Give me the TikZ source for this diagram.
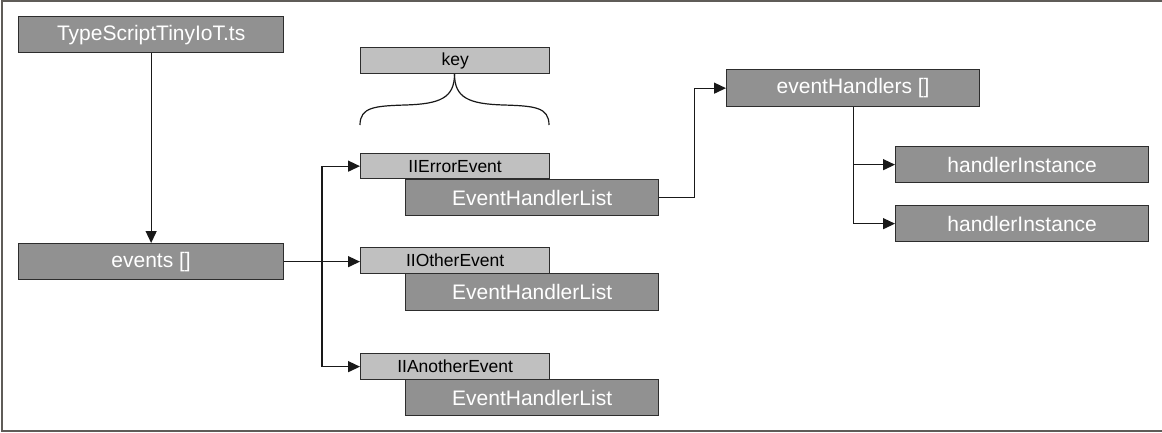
\documentclass[tikz,border=0pt]{standalone}
\usepackage{fontspec}
\setmainfont{Liberation Sans}
\usetikzlibrary{arrows.meta,calc}
\definecolor{darkfill}{RGB}{145,145,145}
\definecolor{lightfill}{RGB}{192,192,192}
\definecolor{edgecol}{RGB}{45,45,45}
\definecolor{framecol}{RGB}{95,92,88}
\tikzset{
  dbox/.style={draw=edgecol, line width=1.3pt, fill=darkfill, text=white, inner sep=0pt,
    anchor=north west, font=\fontsize{21}{24}\selectfont},
  lbox/.style={draw=edgecol, line width=1.3pt, fill=lightfill, text=black, inner sep=0pt,
    anchor=north west, font=\fontsize{17.5}{20}\selectfont},
  conn/.style={draw=black!90, line width=1.3pt},
  arr/.style={conn, -{Triangle[length=12pt,width=11pt]}},
}
\begin{document}
\begin{tikzpicture}[x=1pt,y=-1pt]
\useasboundingbox (0,0) rectangle (1162,432);
% frame
\draw[framecol, line width=2pt] (1163,1) -- (2,1) -- (2,431) -- (1163,431);
% nodes
\node[dbox, minimum width=265pt, minimum height=36pt] (ts) at (18,16) {TypeScriptTinyIoT.ts};
\node[dbox, minimum width=265pt, minimum height=36pt] (events) at (18,243) {events []};
\node[lbox, minimum width=189pt, minimum height=26pt] (key) at (360,47) {key};
\node[lbox, minimum width=189pt, minimum height=25pt] (err) at (360,153) {IIErrorEvent};
\node[dbox, minimum width=253pt, minimum height=36pt] (ehl1) at (405,179) {EventHandlerList};
\node[lbox, minimum width=189pt, minimum height=26pt] (other) at (360,247) {IIOtherEvent};
\node[dbox, minimum width=253pt, minimum height=37pt] (ehl2) at (405,273) {EventHandlerList};
\node[lbox, minimum width=189pt, minimum height=26pt] (another) at (360,353) {IIAnotherEvent};
\node[dbox, minimum width=253pt, minimum height=36pt] (ehl3) at (405,379) {EventHandlerList};
\node[dbox, minimum width=253pt, minimum height=37pt] (eh) at (726,69) {eventHandlers []};
\node[dbox, minimum width=253pt, minimum height=36pt] (hi1) at (895,146) {handlerInstance};
\node[dbox, minimum width=253pt, minimum height=36pt] (hi2) at (895,205) {handlerInstance};
% brace
\draw[conn, line width=1.2pt] (360,125) .. controls (360,107) and (375,106) .. (405,105)
  .. controls (440,104) and (454.5,98) .. (454.5,74);
\draw[conn, line width=1.2pt] (549,125) .. controls (549,107) and (534,106) .. (504,105)
  .. controls (469,104) and (454.5,98) .. (454.5,74);
% connectors
\coordinate (trunk) at (322,0);
\draw[arr] (ts.south) -- (events.north);
\draw[arr] (events.east) -- (events.east -| other.west);
\draw[conn] (err.west -| trunk) -- (another.west -| trunk);
\draw[arr] (err.west -| trunk) -- (err.west);
\draw[arr] (another.west -| trunk) -- (another.west);
\draw[arr] (ehl1.east) -- ++(35,0) |- (eh.west);
\draw[arr] (eh.south) |- (hi2.west);
\draw[arr] (eh.south |- hi1.west) -- (hi1.west);
\end{tikzpicture}
\end{document}
